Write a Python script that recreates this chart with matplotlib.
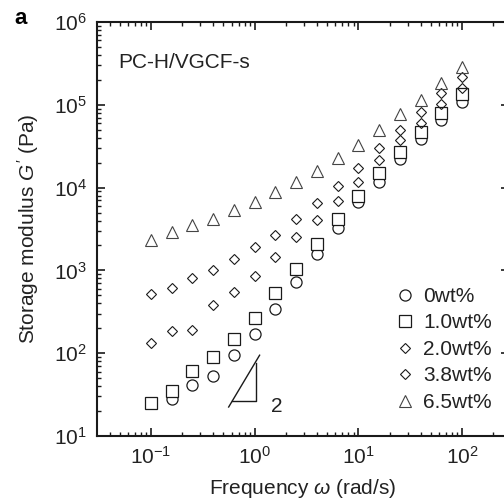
import matplotlib
matplotlib.use("Agg")
import matplotlib.pyplot as plt
from matplotlib.ticker import LogLocator, NullFormatter

plt.rcParams['font.family'] = ['Liberation Sans', 'DejaVu Sans']
plt.rcParams['mathtext.fontset'] = 'custom'
plt.rcParams['mathtext.rm'] = 'Liberation Sans'
plt.rcParams['mathtext.it'] = 'Liberation Sans:italic'
plt.rcParams['mathtext.bf'] = 'Liberation Sans:bold'

# ---- data ----
freq = [0.1, 0.158, 0.251, 0.398, 0.631, 1.0, 1.58, 2.51, 3.98, 6.31,
        10.0, 15.8, 25.1, 39.8, 63.1, 100.0]
g_0wt = [25, 28.0, 41.3, 53.1, 95, 171, 342, 724, 1580, 3250,
         6700, 11700, 22100, 38600, 65500, 108000]
g_1wt = [25.1, 34.9, 60.9, 89.9, 148, 266, 533, 1040, 2080, 4180,
         7920, 15000, 26900, 46900, 79400, 135000]
g_2wt = [133, 185, 191, 382, 548, 855, 1450, 2530, 4060, 6890,
         11700, 21500, 37600, 60300, 102000, 160000]
g_38wt = [519, 612, 809, 1010, 1370, 1920, 2680, 4170, 6520, 10400,
          17300, 30100, 49700, 81800, 139000, 217000]
g_65wt = [2330, 2910, 3530, 4170, 5370, 6700, 8850, 11700, 15800, 22800,
          32700, 49700, 77500, 114000, 183000, 286000]
labels = ['0wt%', '1.0wt%', '2.0wt%', '3.8wt%', '6.5wt%']

# slope-2 guide triangle
tri_hyp_x = [0.562, 1.117]
tri_hyp_y = [22.4, 94.6]
tri_leg_x = [0.601, 1.02, 1.02]
tri_leg_y = [26.4, 26.4, 75.9]

fig = plt.figure(figsize=(5.04, 5.01), dpi=100)
ax = fig.add_axes([97/504, 1-436/501, 412/504, 414/501])

ec = '#1a1a1a'
h0, = ax.plot(freq, g_0wt, 'o', ms=8, mfc='white', mec=ec, mew=0.9, ls='none', zorder=3)
h1, = ax.plot(freq, g_1wt, 's', ms=8, mfc='white', mec=ec, mew=0.9, ls='none', zorder=4)
h2, = ax.plot(freq, g_2wt, 'D', ms=5.5, mfc='none', mec=ec, mew=0.8, ls='none', zorder=5)
h3, = ax.plot(freq, g_38wt, 'D', ms=5.5, mfc='none', mec=ec, mew=0.8, ls='none', zorder=5)
h4, = ax.plot(freq, g_65wt, '^', ms=8, mfc='none', mec='#444444', mew=0.8, ls='none', zorder=6)

ax.plot(tri_hyp_x, tri_hyp_y, color=ec, lw=1.0)
ax.plot(tri_leg_x, tri_leg_y, color=ec, lw=1.0)
ax.text(1.64, 22.4, '2', fontsize=15, ha='center', va='center', color='#222222')

ax.set_xscale('log')
ax.set_yscale('log')
ax.set_xlim(10**-1.52, 10**2.453)
ax.set_ylim(10, 1e6)

ax.xaxis.set_major_locator(LogLocator(base=10, numticks=10))
ax.xaxis.set_minor_locator(LogLocator(base=10, subs=range(2, 10), numticks=20))
ax.yaxis.set_major_locator(LogLocator(base=10, numticks=10))
ax.yaxis.set_minor_locator(LogLocator(base=10, subs=range(2, 10), numticks=20))
ax.xaxis.set_minor_formatter(NullFormatter())
ax.yaxis.set_minor_formatter(NullFormatter())

for sp in ax.spines.values():
    sp.set_linewidth(1.5)
    sp.set_color('#1a1a1a')
ax.tick_params(which='both', direction='in', top=True, right=True, color='#1a1a1a',
               labelsize=15, labelcolor='#222222')
ax.tick_params(which='major', length=5.5, width=1.2, pad=7)
ax.tick_params(which='minor', length=2.8, width=1.0)

ax.set_xlabel(r'Frequency $\omega$ (rad/s)', fontsize=15, color='#222222')
ax.set_ylabel(r"Storage modulus $G'$ (Pa)", fontsize=15, color='#222222')
ax.xaxis.set_label_coords(0.5, -0.126)
ax.xaxis.label.set_va('center')
ax.yaxis.set_label_coords(-0.167, 0.5)
ax.yaxis.label.set_va('center')

ax.text(0.051, 0.903, 'PC-H/VGCF-s', transform=ax.transAxes, fontsize=15,
        ha='left', va='center', color='#222222')
fig.text(14/504, 1-19/501, 'a', fontsize=16, fontweight='bold', ha='left', va='center')

leg = ax.legend([h0, h1, h2, h3, h4], labels, loc='upper left',
                bbox_to_anchor=(0.723, 0.36), frameon=False, fontsize=15,
                numpoints=1, handlelength=1.0, handletextpad=0.35,
                labelspacing=0.36, borderpad=0, borderaxespad=0)
for t in leg.get_texts():
    t.set_color('#222222')

fig.savefig('out.png', dpi=100)
